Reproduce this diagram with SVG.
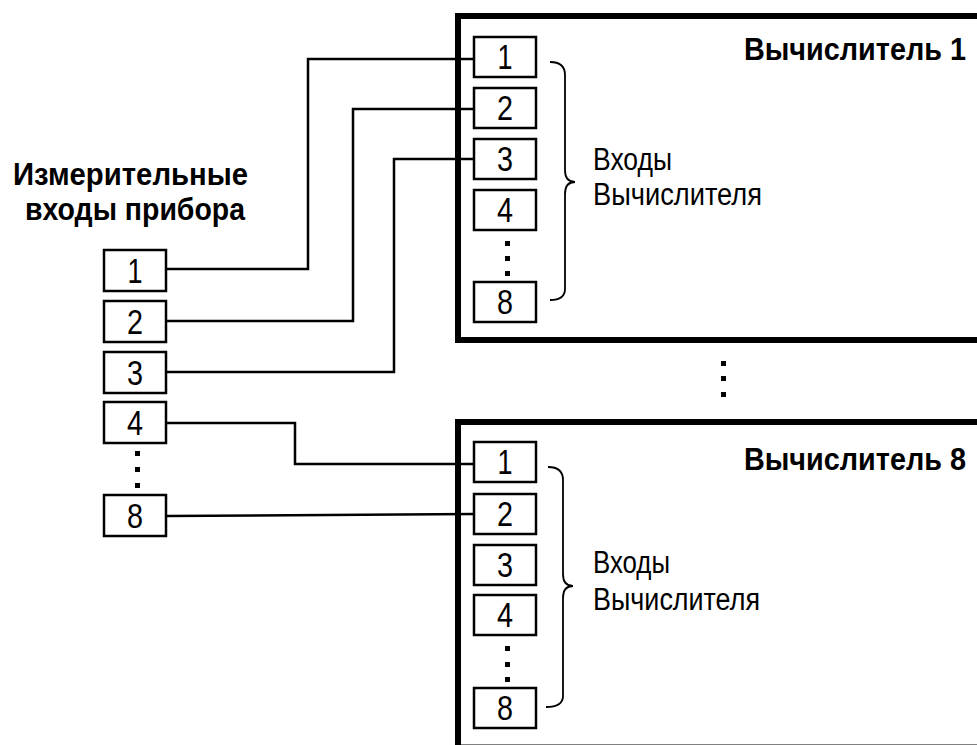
<svg xmlns="http://www.w3.org/2000/svg" width="977" height="745" viewBox="0 0 977 745">
<style>
.frame{fill:none;stroke:#000;stroke-width:6}
.box{fill:#fff;stroke:#000;stroke-width:2.5}
.wire{fill:none;stroke:#000;stroke-width:2.5}
.brace{fill:none;stroke:#000;stroke-width:1.8}
.dig{font-family:"Liberation Sans",Arial,sans-serif;font-size:35px;text-anchor:middle;fill:#000}
.bold{font-family:"Liberation Sans",Arial,sans-serif;font-size:32px;font-weight:bold;fill:#000}
.title{font-family:"Liberation Sans",Arial,sans-serif;font-size:31px;font-weight:bold;fill:#000;text-anchor:end}
.reg{font-family:"Liberation Sans",Arial,sans-serif;font-size:31px;fill:#000}
.dot{fill:#000}
</style>
<rect width="977" height="745" fill="#fff"/>

<g id="device-inputs">
  <text class="bold" x="13" y="185" textLength="235" lengthAdjust="spacingAndGlyphs">Измерительные</text>
  <text class="bold" x="25" y="220" textLength="220" lengthAdjust="spacingAndGlyphs">входы прибора</text>
  <g id="in1"><rect class="box" x="104" y="250" width="62" height="41"/><text class="dig" x="135" y="283" textLength="15" lengthAdjust="spacingAndGlyphs">1</text></g>
  <g id="in2"><rect class="box" x="104" y="301" width="62" height="41"/><text class="dig" x="135" y="334" textLength="16" lengthAdjust="spacingAndGlyphs">2</text></g>
  <g id="in3"><rect class="box" x="104" y="352" width="62" height="41"/><text class="dig" x="135" y="385" textLength="16" lengthAdjust="spacingAndGlyphs">3</text></g>
  <g id="in4"><rect class="box" x="104" y="402" width="62" height="41"/><text class="dig" x="135" y="435" textLength="16" lengthAdjust="spacingAndGlyphs">4</text></g>
  <rect class="dot" x="135" y="451" width="5" height="5"/>
  <rect class="dot" x="135" y="467" width="5" height="5"/>
  <rect class="dot" x="135" y="483" width="5" height="5"/>
  <g id="in8"><rect class="box" x="104" y="495" width="62" height="41"/><text class="dig" x="135" y="528" textLength="16" lengthAdjust="spacingAndGlyphs">8</text></g>
</g>

<g id="calc1">
  <rect class="frame" x="458" y="16" width="530" height="324"/>
  <text class="title" transform="translate(966,60) scale(0.93,1)">Вычислитель 1</text>
  <g id="c1-1"><rect class="box" x="474" y="37" width="62" height="40"/><text class="dig" x="505" y="69" textLength="15" lengthAdjust="spacingAndGlyphs">1</text></g>
  <g id="c1-2"><rect class="box" x="474" y="88" width="62" height="40"/><text class="dig" x="505" y="120" textLength="16" lengthAdjust="spacingAndGlyphs">2</text></g>
  <g id="c1-3"><rect class="box" x="474" y="139" width="62" height="40"/><text class="dig" x="505" y="171" textLength="16" lengthAdjust="spacingAndGlyphs">3</text></g>
  <g id="c1-4"><rect class="box" x="474" y="190" width="62" height="40"/><text class="dig" x="505" y="222" textLength="16" lengthAdjust="spacingAndGlyphs">4</text></g>
  <rect class="dot" x="505" y="241" width="5" height="5"/>
  <rect class="dot" x="505" y="256" width="5" height="5"/>
  <rect class="dot" x="505" y="271" width="5" height="5"/>
  <g id="c1-8"><rect class="box" x="474" y="282" width="62" height="40"/><text class="dig" x="505" y="314" textLength="16" lengthAdjust="spacingAndGlyphs">8</text></g>
  <path class="brace" d="M550,62 C559,62 565,65 565,75 L565,170 C565,178 569,182 575,182 C569,182 565,186 565,194 L565,289 C565,297 559,300 550,300"/>
  <text class="reg" x="593" y="170" textLength="79" lengthAdjust="spacingAndGlyphs">Входы</text>
  <text class="reg" x="593" y="205" textLength="169" lengthAdjust="spacingAndGlyphs">Вычислителя</text>
</g>

<g id="between-dots">
  <rect class="dot" x="721" y="361" width="5" height="5"/>
  <rect class="dot" x="721" y="376" width="5" height="5"/>
  <rect class="dot" x="721" y="392" width="5" height="5"/>
</g>

<g id="calc8">
  <rect class="frame" x="458" y="422" width="530" height="325.5"/>
  <text class="title" transform="translate(966,470) scale(0.93,1)">Вычислитель 8</text>
  <g id="c8-1"><rect class="box" x="474" y="442" width="62" height="40"/><text class="dig" x="505" y="474" textLength="15" lengthAdjust="spacingAndGlyphs">1</text></g>
  <g id="c8-2"><rect class="box" x="474" y="494" width="62" height="40"/><text class="dig" x="505" y="526" textLength="16" lengthAdjust="spacingAndGlyphs">2</text></g>
  <g id="c8-3"><rect class="box" x="474" y="545" width="62" height="40"/><text class="dig" x="505" y="577" textLength="16" lengthAdjust="spacingAndGlyphs">3</text></g>
  <g id="c8-4"><rect class="box" x="474" y="595" width="62" height="40"/><text class="dig" x="505" y="627" textLength="16" lengthAdjust="spacingAndGlyphs">4</text></g>
  <rect class="dot" x="505" y="646" width="5" height="5"/>
  <rect class="dot" x="505" y="662" width="5" height="5"/>
  <rect class="dot" x="505" y="677" width="5" height="5"/>
  <g id="c8-8"><rect class="box" x="474" y="688" width="62" height="40"/><text class="dig" x="505" y="720" textLength="16" lengthAdjust="spacingAndGlyphs">8</text></g>
  <path class="brace" d="M548,467 C557,467 563,470 563,480 L563,574 C563,582 567,586 573,586 C567,586 563,590 563,598 L563,696 C563,704 557,707 546,707"/>
  <text class="reg" x="593" y="573" textLength="77" lengthAdjust="spacingAndGlyphs">Входы</text>
  <text class="reg" x="593" y="610" textLength="167" lengthAdjust="spacingAndGlyphs">Вычислителя</text>
</g>

<g id="connectors">
  <polyline class="wire" points="166,269 308,269 308,59 474,59"/>
  <polyline class="wire" points="166,321 353,321 353,109 474,109"/>
  <polyline class="wire" points="166,372 394,372 394,159 474,159"/>
  <polyline class="wire" points="166,423 295,423 295,464 474,464"/>
  <polyline class="wire" points="166,516 474,514"/>
</g>
</svg>
